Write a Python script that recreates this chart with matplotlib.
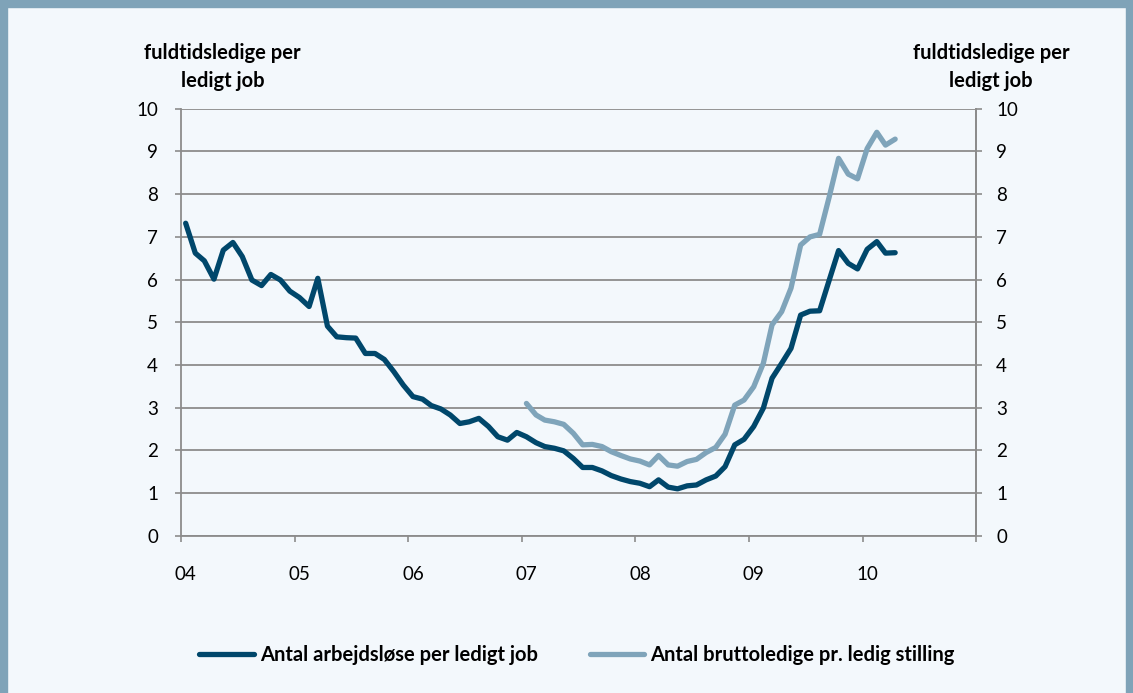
import pandas as pd
import matplotlib.pyplot as plt
from matplotlib.patches import Rectangle

# monthly data, jan 2004 - apr 2010
START = "2004-01-01"

arbejdsloese = [7.32, 6.62, 6.44, 6.01, 6.69, 6.87, 6.54, 5.99, 5.86, 6.12, 5.99, 5.73,
                5.58, 5.37, 6.03, 4.91, 4.66, 4.64, 4.63, 4.27, 4.27, 4.13, 3.84, 3.53,
                3.26, 3.20, 3.05, 2.97, 2.83, 2.63, 2.67, 2.75, 2.56, 2.32, 2.24, 2.42,
                2.32, 2.18, 2.09, 2.05, 1.99, 1.81, 1.60, 1.60, 1.52, 1.41, 1.33, 1.27,
                1.23, 1.15, 1.31, 1.14, 1.10, 1.17, 1.19, 1.31, 1.40, 1.62, 2.13, 2.26,
                2.56, 2.99, 3.69, 4.04, 4.39, 5.17, 5.26, 5.27, 5.99, 6.68, 6.38, 6.25,
                6.71, 6.89, 6.62, 6.63]

# starts jan 2007
bruttoledige_start = "2007-01-01"
bruttoledige = [3.10, 2.83, 2.71, 2.67, 2.61, 2.40, 2.13, 2.14, 2.09, 1.97, 1.88, 1.80,
                1.75, 1.66, 1.88, 1.66, 1.63, 1.74, 1.79, 1.95, 2.07, 2.38, 3.06, 3.18,
                3.49, 4.04, 4.94, 5.25, 5.80, 6.81, 7.00, 7.06, 7.94, 8.84, 8.47, 8.36,
                9.07, 9.45, 9.15, 9.29]

years = ["04", "05", "06", "07", "08", "09", "10"]
yticks = list(range(0, 11))

label_dark = "Antal arbejdsløse per ledigt job"
label_light = "Antal bruttoledige pr. ledig stilling"
ylabel = "fuldtidsledige per\nledigt job"

DARK = "#00476b"
LIGHT = "#7fa4ba"
GRID = "#8c8c8c"
BG = "#f3f8fc"
FRAME = "#7fa3b8"


def run():
  plt.rcParams["font.family"] = ["Lato", "DejaVu Sans"]

  fig = plt.figure(figsize=(11.33, 6.93), dpi=100)
  fig.patch.set_facecolor(BG)

  # frame round the figure
  fig.patches.append(Rectangle((0, 693 - 7), 1133, 7, transform=None, color=FRAME, zorder=0))
  fig.patches.append(Rectangle((0, 0), 7, 693, transform=None, color=FRAME, zorder=0))
  fig.patches.append(Rectangle((1126, 0), 7, 693, transform=None, color=FRAME, zorder=0))

  ax = fig.add_axes([181 / 1133, 1 - 535.8 / 693, (976 - 181) / 1133, (535.8 - 108.8) / 693])
  ax.set_facecolor(BG)

  x1 = pd.date_range(START, periods=len(arbejdsloese), freq="MS") + pd.Timedelta(days=15)
  x2 = pd.date_range(bruttoledige_start, periods=len(bruttoledige), freq="MS") + pd.Timedelta(days=15)

  ax.plot(x1, arbejdsloese, color=DARK, lw=3.8, solid_capstyle="round", solid_joinstyle="round",
          label=label_dark, zorder=3)
  ax.plot(x2, bruttoledige, color=LIGHT, lw=3.8, solid_capstyle="round", solid_joinstyle="round",
          label=label_light, zorder=3)

  ax.set_ylim(0, 10)
  ax.set_xlim(pd.Timestamp("2004-01-01"), pd.Timestamp("2011-01-01"))

  major = pd.date_range("2004-01-01", "2011-01-01", freq="YS")
  ax.set_xticks(major)
  ax.set_xticklabels([""] * len(major))
  minor = pd.date_range("2004-01-01", periods=len(years), freq="YS") + pd.Timedelta(days=15)
  ax.set_xticks(minor, minor=True)
  ax.set_xticklabels(years, minor=True)
  ax.tick_params(axis="x", which="major", direction="out", length=4.5, width=1.2, color=GRID)
  ax.tick_params(axis="x", which="minor", length=0, pad=21.5, labelsize=13.5)

  ax.set_yticks(yticks)
  ax.tick_params(axis="y", direction="out", length=4.5, width=1.2, color=GRID, pad=12, labelsize=13.5)
  ax.grid(axis="y", color=GRID, lw=1.3)
  ax.set_axisbelow(True)

  ax.spines["top"].set_visible(False)
  for s in ["left", "right", "bottom"]:
    ax.spines[s].set_color(GRID)
    ax.spines[s].set_linewidth(1.3)

  ax2 = ax.twinx()
  ax2.set_ylim(0, 10)
  ax2.set_yticks(yticks)
  ax2.tick_params(axis="y", direction="out", length=4.5, width=1.2, color=GRID, pad=10, labelsize=13.5)
  for s in ["top", "left", "bottom"]:
    ax2.spines[s].set_visible(False)
  ax2.spines["right"].set_color(GRID)
  ax2.spines["right"].set_linewidth(1.3)

  fig.text(222.7 / 1133, 1 - 67 / 693, ylabel, ha="center", va="center", fontsize=14.5,
           fontweight="bold", linespacing=1.45)
  fig.text(991 / 1133, 1 - 67 / 693, ylabel, ha="center", va="center", fontsize=14.5,
           fontweight="bold", linespacing=1.45)

  fig.legend(loc="center", bbox_to_anchor=(577 / 1133, 1 - 655 / 693), ncol=2,
             frameon=False, handlelength=2.7, handletextpad=0.3, columnspacing=2.6,
             prop={"weight": "bold", "size": 14.5})

  plt.savefig("out.png", dpi=100, facecolor=BG)


if __name__ == "__main__":
  run()
